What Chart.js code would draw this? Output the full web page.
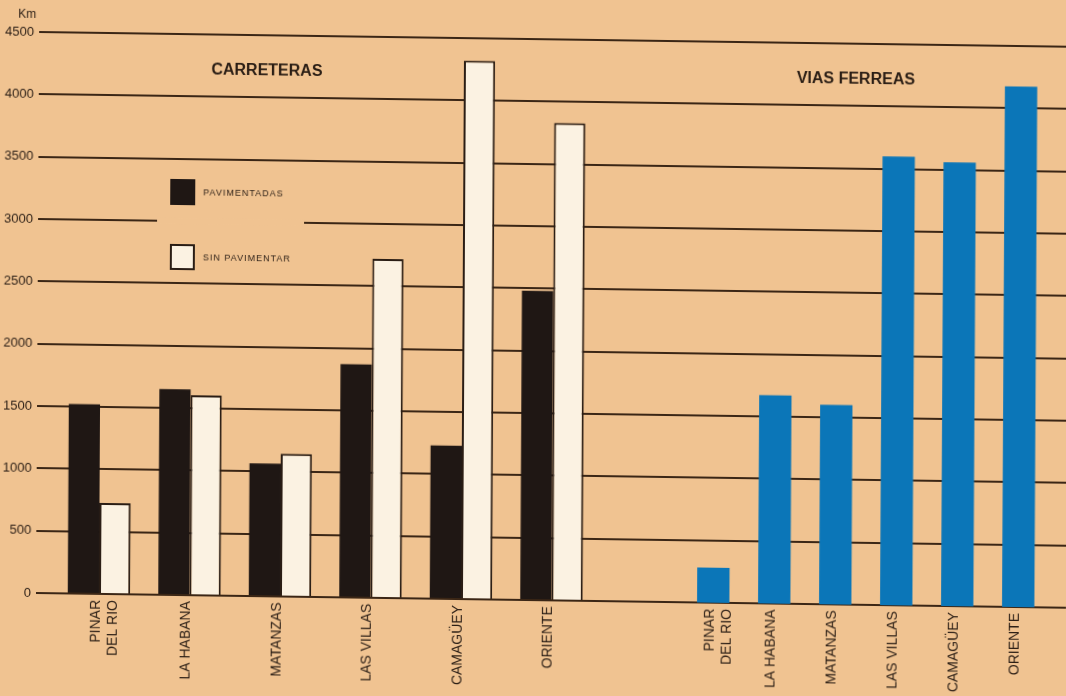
<!DOCTYPE html>
<html lang="es">
<head>
<meta charset="utf-8">
<title>Carreteras y vías férreas por provincias</title>
<script src="https://cdn.jsdelivr.net/npm/chart.js@4.4.1/dist/chart.umd.min.js"></script>
<style>
  html, body { margin: 0; padding: 0; background: #f0c391; overflow: hidden; }
  #lamina {
    position: absolute; left: 0; top: 0; width: 1066px; height: 696px;
    /* la lámina impresa quedó algo torcida */
    transform-origin: 36px 593px;
    transform: rotate(0.32deg) skewY(0.5deg);
  }
  #lamina canvas { position: absolute; left: 0; top: 0; }
</style>
</head>
<body>
<div id="lamina">
  <canvas id="carreteras" width="1066" height="696"></canvas>
  <canvas id="ferrocarril" width="1066" height="696"></canvas>
</div>
<script>
const provincias = [["PINAR", "DEL RIO"], "LA HABANA", "MATANZAS", "LAS VILLAS", "CAMAGÜEY", "ORIENTE"];
// Km de carreteras
const pavimentadas = [1520, 1650, 1065, 1870, 1230, 2480];
const sinPavimentar = [730, 1605, 1145, 2720, 4320, 3830];
// Km de vías férreas
const viasFerreas = [280, 1670, 1600, 3600, 3560, 4175];
const marcasKm = [0, 500, 1000, 1500, 2000, 2500, 3000, 3500, 4000, 4500];

const FONDO = "#f0c391";
const TINTA = "#2a1d14";
const LINEA = "#3b2615";

Chart.defaults.font.family = "'Liberation Sans', Arial, sans-serif";
Chart.defaults.color = TINTA;

const puntos = (valores) => valores.map((v, i) => ({ x: i, y: v }));

// eje de provincias: lineal para poder fijar el paso de cada bloque
function ejeProvincias(min, max) {
  return {
    type: "linear",
    offset: false,
    min: min,
    max: max,
    afterBuildTicks: (axis) => { axis.ticks = provincias.map((p, i) => ({ value: i })); },
    afterFit: (scale) => { scale.height = 103; },
    grid: { display: false, drawTicks: false },
    border: { display: false },
    ticks: {
      autoSkip: false,
      minRotation: 90,
      maxRotation: 90,
      padding: 6,
      labelOffset: -3,
      font: { size: 14 },
      callback: (v) => provincias[v]
    }
  };
}

// eje de Km; en el segundo gráfico ocupa el mismo ancho pero no se ve
const ejeKm = (visible) => ({
  min: marcasKm[0],
  max: marcasKm[marcasKm.length - 1],
  afterBuildTicks: (axis) => { axis.ticks = marcasKm.map((v) => ({ value: v })); },
  afterFit: (scale) => { scale.width = 36; },
  grid: { display: visible, color: LINEA, lineWidth: 2, drawTicks: false },
  border: { display: false },
  ticks: { display: visible, padding: 5, font: { size: 13 }, callback: (v) => String(v) }
});

// corte de la línea de 3000 detrás de la leyenda
const corteLeyenda = {
  id: "corteLeyenda",
  beforeDatasetsDraw(chart) {
    const { ctx, scales: { y } } = chart;
    const py = y.getPixelForValue(3000);
    ctx.save();
    ctx.fillStyle = FONDO;
    ctx.fillRect(155, py - 3, 147, 6);
    ctx.restore();
  }
};

// títulos, unidad y leyenda dibujados a mano
const rotulos = {
  id: "rotulos",
  afterDraw(chart) {
    const { ctx } = chart;
    const ds = chart.data.datasets;
    ctx.save();
    ctx.fillStyle = TINTA;
    ctx.textBaseline = "middle";
    ctx.textAlign = "center";
    ctx.font = "bold 16px 'Liberation Sans', Arial, sans-serif";
    ctx.fillText("CARRETERAS", 264, 68);
    ctx.fillText("VIAS FERREAS", 853, 68);

    ctx.font = "12px 'Liberation Sans', Arial, sans-serif";
    ctx.fillText("Km", 24, 15);

    ctx.textAlign = "left";
    ctx.font = "9px 'Liberation Sans', Arial, sans-serif";
    ctx.letterSpacing = "1px";
    [[ds[0], 177], [ds[1], 242]].forEach(([d, top]) => {
      ctx.fillStyle = d.backgroundColor;
      ctx.fillRect(168, top, 25, 26);
      if (d.borderWidth) {
        ctx.strokeStyle = d.borderColor;
        ctx.lineWidth = 2;
        ctx.strokeRect(169, top + 1, 23, 24);
      }
      ctx.fillStyle = TINTA;
      ctx.fillText(d.label, 201, top + 14);
    });
    ctx.restore();
  }
};

// carreteras: pavimentadas y sin pavimentar, con la rejilla completa
new Chart(document.getElementById("carreteras").getContext("2d"), {
  type: "bar",
  data: {
    datasets: [
      {
        label: "PAVIMENTADAS",
        data: puntos(pavimentadas),
        backgroundColor: "#1f1714",
        borderWidth: 0,
        categoryPercentage: 0.69,
        barPercentage: 1
      },
      {
        label: "SIN PAVIMENTAR",
        data: puntos(sinPavimentar),
        backgroundColor: "#fbf2e2",
        borderColor: "#2a1d14",
        borderWidth: 2,
        categoryPercentage: 0.69,
        barPercentage: 1
      }
    ]
  },
  options: {
    responsive: false,
    animation: false,
    layout: { padding: { top: 32, left: 0, right: 0, bottom: 0 } },
    plugins: { legend: { display: false }, tooltip: { enabled: false } },
    scales: {
      x: ejeProvincias(-0.696, 10.685),
      y: ejeKm(true)
    }
  },
  plugins: [corteLeyenda, rotulos]
});

// vías férreas, encima y sin rejilla propia
new Chart(document.getElementById("ferrocarril").getContext("2d"), {
  type: "bar",
  data: {
    datasets: [
      {
        label: "VIAS FERREAS",
        data: puntos(viasFerreas),
        backgroundColor: "#0b76b8",
        borderWidth: 0,
        categoryPercentage: 0.53,
        barPercentage: 1
      }
    ]
  },
  options: {
    responsive: false,
    animation: false,
    layout: { padding: { top: 32, left: 0, right: 0, bottom: 0 } },
    plugins: { legend: { display: false }, tooltip: { enabled: false } },
    scales: {
      x: ejeProvincias(-11.103, 5.782),
      y: ejeKm(false)
    }
  }
});
</script>
</body>
</html>
